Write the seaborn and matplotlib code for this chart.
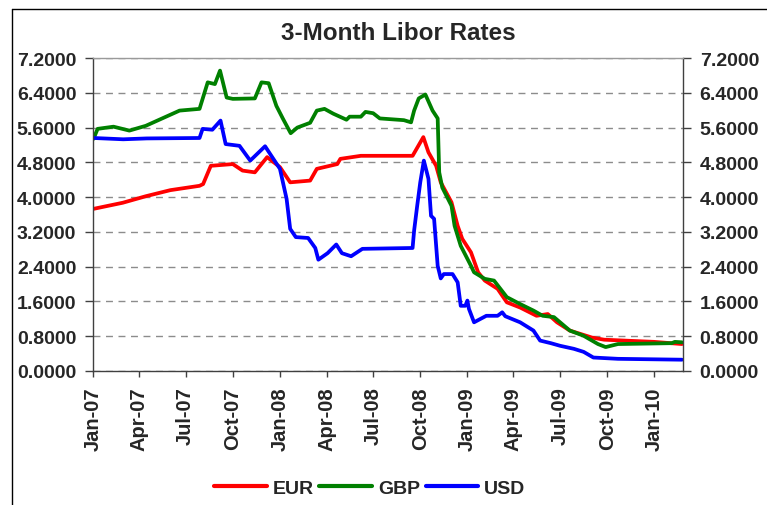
import matplotlib
matplotlib.use("Agg")
import matplotlib.pyplot as plt
import matplotlib.dates as mdates
from matplotlib.lines import Line2D
from matplotlib.ticker import MultipleLocator, FormatStrFormatter
import seaborn as sns
import pandas as pd

# values (breakpoints of each curve)
eur_dates = ["2007-01-02", "2007-02-28", "2007-04-14", "2007-06-01", "2007-07-28", "2007-08-04",
             "2007-08-19", "2007-10-01", "2007-10-20", "2007-11-13", "2007-12-07", "2008-01-01",
             "2008-01-21", "2008-02-29", "2008-03-13", "2008-04-22", "2008-04-28", "2008-06-07",
             "2008-09-16", "2008-10-07", "2008-10-17", "2008-11-01", "2008-11-10", "2008-12-01",
             "2008-12-13", "2008-12-22", "2009-01-08", "2009-01-22", "2009-02-04", "2009-03-01",
             "2009-03-19", "2009-04-14", "2009-05-16", "2009-06-07", "2009-06-25", "2009-07-20",
             "2009-09-01", "2009-09-25", "2010-01-01", "2010-02-24"]
eur_rates = [3.73, 3.87, 4.02, 4.16, 4.26, 4.30,
             4.72, 4.76, 4.61, 4.57, 4.92, 4.69,
             4.34, 4.38, 4.65, 4.76, 4.88, 4.95,
             4.95, 5.38, 5.03, 4.72, 4.34, 3.88,
             3.34, 3.04, 2.73, 2.27, 2.08, 1.89,
             1.58, 1.46, 1.27, 1.31, 1.12, 0.93,
             0.77, 0.72, 0.67, 0.62]

gbp_dates = ["2007-01-02", "2007-01-10", "2007-02-10", "2007-03-13", "2007-04-14", "2007-06-19",
             "2007-07-28", "2007-08-13", "2007-08-27", "2007-09-06", "2007-09-19", "2007-10-01",
             "2007-11-13", "2007-11-26", "2007-12-10", "2007-12-25", "2008-01-07", "2008-01-22",
             "2008-02-04", "2008-02-29", "2008-03-13", "2008-03-28", "2008-04-14", "2008-05-10",
             "2008-05-16", "2008-06-07", "2008-06-16", "2008-07-01", "2008-07-14", "2008-08-30",
             "2008-09-13", "2008-09-19", "2008-09-28", "2008-10-11", "2008-10-25", "2008-11-04",
             "2008-11-07", "2008-11-13", "2008-12-01", "2008-12-07", "2008-12-19", "2009-01-08",
             "2009-01-14", "2009-02-04", "2009-02-22", "2009-03-19", "2009-04-14", "2009-05-10",
             "2009-05-28", "2009-06-19", "2009-07-20", "2009-08-16", "2009-09-13", "2009-09-28",
             "2009-10-22", "2010-02-04", "2010-02-10", "2010-02-24"]
gbp_rates = [5.34, 5.57, 5.62, 5.53, 5.64, 5.99,
             6.03, 6.64, 6.60, 6.91, 6.29, 6.26,
             6.27, 6.64, 6.62, 6.10, 5.80, 5.47,
             5.60, 5.71, 5.99, 6.03, 5.92, 5.78,
             5.85, 5.85, 5.96, 5.93, 5.81, 5.77,
             5.72, 5.99, 6.27, 6.36, 5.99, 5.81,
             4.57, 4.22, 3.80, 3.34, 2.88, 2.42,
             2.27, 2.12, 2.08, 1.70, 1.54, 1.39,
             1.27, 1.24, 0.93, 0.81, 0.62, 0.55,
             0.62, 0.64, 0.67, 0.66]

usd_dates = ["2007-01-02", "2007-03-01", "2007-04-16", "2007-07-28", "2007-08-03", "2007-08-22",
             "2007-09-07", "2007-09-17", "2007-10-14", "2007-11-04", "2007-12-03", "2007-12-13",
             "2008-01-01", "2008-01-14", "2008-01-21", "2008-02-01", "2008-02-25", "2008-03-10",
             "2008-03-16", "2008-04-03", "2008-04-20", "2008-05-01", "2008-05-19", "2008-06-10",
             "2008-09-16", "2008-09-19", "2008-09-25", "2008-10-01", "2008-10-08", "2008-10-17",
             "2008-10-22", "2008-10-28", "2008-11-04", "2008-11-10", "2008-11-16", "2008-12-03",
             "2008-12-13", "2008-12-19", "2008-12-28", "2009-01-01", "2009-01-04", "2009-01-14",
             "2009-02-07", "2009-03-01", "2009-03-10", "2009-03-16", "2009-04-14", "2009-05-10",
             "2009-05-23", "2009-06-13", "2009-07-01", "2009-07-28", "2009-08-16", "2009-09-04",
             "2009-10-22", "2010-02-24"]
usd_rates = [5.36, 5.33, 5.35, 5.36, 5.57, 5.55,
             5.76, 5.22, 5.18, 4.84, 5.17, 4.99,
             4.65, 3.96, 3.27, 3.08, 3.06, 2.83,
             2.56, 2.71, 2.91, 2.71, 2.64, 2.81,
             2.83, 3.23, 3.80, 4.34, 4.84, 4.42,
             3.57, 3.50, 2.42, 2.13, 2.23, 2.23,
             2.04, 1.50, 1.50, 1.62, 1.43, 1.12,
             1.27, 1.27, 1.35, 1.26, 1.12, 0.93,
             0.70, 0.64, 0.58, 0.51, 0.44, 0.31,
             0.28, 0.26]

currencies = ["EUR", "GBP", "USD"]
colors = {"EUR": "#ff0000", "GBP": "#008000", "USD": "#0000ff"}

frames = []
for name, d, v in zip(currencies, [eur_dates, gbp_dates, usd_dates], [eur_rates, gbp_rates, usd_rates]):
    frames.append(pd.DataFrame({"date": pd.to_datetime(d), "rate": v, "ccy": name}))
df = pd.concat(frames, ignore_index=True)

sns.set_style("white")
plt.rcParams["font.family"] = ["Liberation Sans", "DejaVu Sans"]
plt.rcParams["font.weight"] = "bold"

W, H = 767, 506
fig = plt.figure(figsize=(W / 100, H / 100), dpi=100)
ax = fig.add_axes([93 / W, 1 - 372 / H, (683 - 93) / W, (372 - 59) / H])

sns.lineplot(data=df, x="date", y="rate", hue="ccy", hue_order=currencies, palette=colors,
             linewidth=2.7, estimator=None, sort=False, ax=ax)

ax.set_xlim(pd.Timestamp("2007-01-01"), pd.Timestamp("2010-02-26"))
ax.set_ylim(0, 7.2)
ax.yaxis.set_major_locator(MultipleLocator(0.8))
ax.yaxis.set_major_formatter(FormatStrFormatter("%.4f"))
ax.xaxis.set_major_locator(mdates.MonthLocator(bymonth=[1, 4, 7, 10]))
ax.xaxis.set_major_formatter(mdates.DateFormatter("%b-%y"))
ax.set_xlabel("")
ax.set_ylabel("")

ax.tick_params(axis="y", which="major", labelsize=14, length=6, width=1, color="#404040",
               left=True, right=True, labelleft=True, labelright=True, pad=6, direction="out")
ax.tick_params(axis="x", which="major", labelsize=14.5, length=4, width=1, color="#404040",
               bottom=True, pad=7, direction="out", labelrotation=90)

ax.set_axisbelow(True)
ax.yaxis.grid(True, linestyle=(0, (5, 4)), color="#8c8c8c", linewidth=1)
ax.xaxis.grid(False)
for s in ["left", "right", "bottom"]:
    ax.spines[s].set_color("#404040")
    ax.spines[s].set_linewidth(1)
ax.spines["top"].set_color("#9a9a9a")
ax.spines["top"].set_linewidth(1)

fig.text(398 / W, 1 - 40 / H, "3-Month Libor Rates", ha="center", va="baseline",
         fontsize=17.5, fontweight="bold")

sns.move_legend(ax, "center", bbox_to_anchor=(0.482, 1 - 489 / H), bbox_transform=fig.transFigure,
                ncol=3, frameon=False, title=None, fontsize=14, handlelength=2.7,
                handletextpad=0.3, columnspacing=0.3)
for line in ax.get_legend().get_lines():
    line.set_linewidth(3)

# outer chart border
fig.add_artist(Line2D([12 / W, 12 / W], [0, 1 - 10 / H], color="black", linewidth=1))
fig.add_artist(Line2D([12 / W, 1], [1 - 10 / H, 1 - 10 / H], color="black", linewidth=1))

fig.savefig("out.png", dpi=100, facecolor="white")
